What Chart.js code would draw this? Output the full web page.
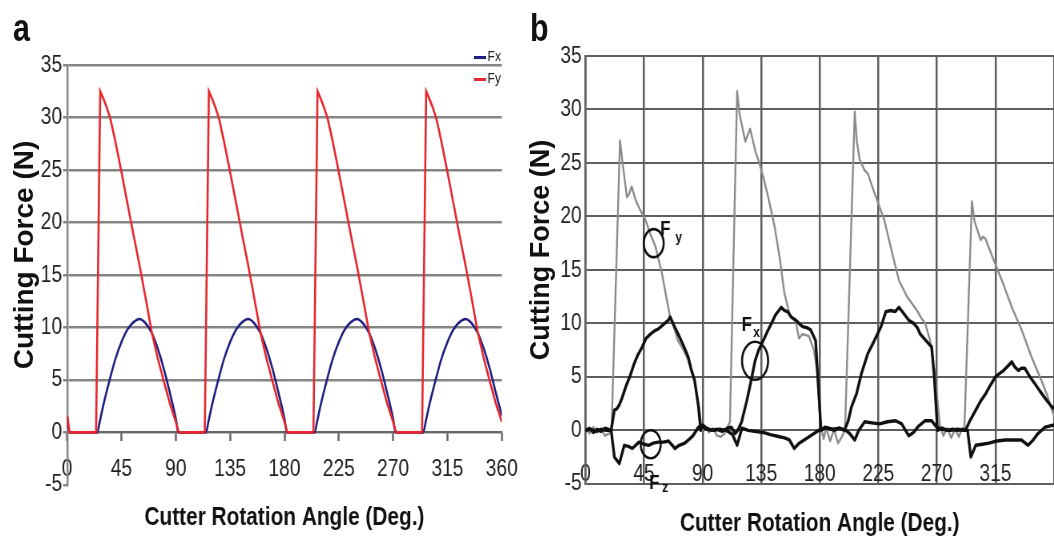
<!DOCTYPE html>
<html>
<head>
<meta charset="utf-8">
<title>Cutting force vs cutter rotation angle</title>
<script src="https://cdn.jsdelivr.net/npm/chart.js@4.4.1/dist/chart.umd.min.js"></script>
<style>
  html, body { margin: 0; padding: 0; background: #fff; }
  body { position: relative; width: 1054px; height: 542px; overflow: hidden;
         font-family: "Liberation Sans", Arial, sans-serif; color: #111; }
  /* the original figure is squeezed sideways, so the canvases are too */
  .box { position: absolute; top: 0; height: 542px; transform: scaleX(0.8); transform-origin: 0 0; }
  #boxA { left: 0; width: 662.5px; }
  #boxB { left: 518px; width: 700px; }
  .panel { position: absolute; font-weight: bold; font-size: 38px; line-height: 1; transform: scaleX(0.8); transform-origin: 0 0; }
  .ytitle { position: absolute; transform: translate(-50%, -50%) rotate(-90deg); white-space: nowrap; font-weight: bold; }
  #legendA { position: absolute; left: 474px; top: 45px; font-size: 15px; line-height: 22px; color: #222;
             transform: scaleX(0.8); transform-origin: 0 0; }
  #legendA .sw { display: inline-block; width: 15px; height: 3px; vertical-align: middle; margin-right: 2px; }
</style>
</head>
<body>
<div id="boxA" class="box"><canvas id="chartA"></canvas></div>
<div id="boxB" class="box"><canvas id="chartB"></canvas></div>
<div class="panel" style="left:13px; top:9px">a</div>
<div class="panel" style="left:530px; top:9px">b</div>
<div class="ytitle" style="left:24px; top:255px; font-size:28px">Cutting Force (N)</div>
<div class="ytitle" style="left:540px; top:250px; font-size:27px">Cutting Force (N)</div>
<div id="legendA"></div>

<script>
const FONT = '"Liberation Sans", Arial, sans-serif';

// axis ticks (both panels)
const angleTicks = [0, 45, 90, 135, 180, 225, 270, 315, 360];
const forceTicks = [-5, 0, 5, 10, 15, 20, 25, 30, 35];

// panel a - [angle (deg), force (N)]
const simFx = [
  [0, 1.5], [2, 0], [25, 0], [27, 1.0], [30, 2.6], [35, 4.9], [40, 7.0], [45, 8.6], [50, 9.8], [55, 10.5],
  [60, 10.8], [65, 10.4], [70, 9.5], [75, 8.0], [80, 6.1], [85, 3.8], [90, 1.3], [92, 0],
  [115, 0], [117, 1.0], [120, 2.6], [125, 4.9], [130, 7.0], [135, 8.6], [140, 9.8], [145, 10.5],
  [150, 10.8], [155, 10.4], [160, 9.5], [165, 8.0], [170, 6.1], [175, 3.8], [180, 1.3], [182, 0],
  [205, 0], [207, 1.0], [210, 2.6], [215, 4.9], [220, 7.0], [225, 8.6], [230, 9.8], [235, 10.5],
  [240, 10.8], [245, 10.4], [250, 9.5], [255, 8.0], [260, 6.1], [265, 3.8], [270, 1.3], [272, 0],
  [295, 0], [297, 1.0], [300, 2.6], [305, 4.9], [310, 7.0], [315, 8.6], [320, 9.8], [325, 10.5],
  [330, 10.8], [335, 10.4], [340, 9.5], [345, 8.0], [350, 6.1], [355, 3.8], [360, 1.6]
];
const simFy = [
  [0, 1.6], [2, 0], [24, 0], [27.4, 32.5], [30, 31.8], [33, 30.9], [36, 29.8], [40, 27.7], [45, 24.8],
  [50, 21.8], [55, 18.8], [60, 15.9], [65, 12.8], [70, 9.6], [75, 7.1], [80, 4.9], [85, 2.8], [90, 1.0], [92.5, 0],
  [114, 0], [117.4, 32.5], [120, 31.8], [123, 30.9], [126, 29.8], [130, 27.7], [135, 24.8],
  [140, 21.8], [145, 18.8], [150, 15.9], [155, 12.8], [160, 9.6], [165, 7.1], [170, 4.9], [175, 2.8], [180, 1.0], [182.5, 0],
  [204, 0], [207.4, 32.5], [210, 31.8], [213, 30.9], [216, 29.8], [220, 27.7], [225, 24.8],
  [230, 21.8], [235, 18.8], [240, 15.9], [245, 12.8], [250, 9.6], [255, 7.1], [260, 4.9], [265, 2.8], [270, 1.0], [272.5, 0],
  [294, 0], [297.4, 32.5], [300, 31.8], [303, 30.9], [306, 29.8], [310, 27.7], [315, 24.8],
  [320, 21.8], [325, 18.8], [330, 15.9], [335, 12.8], [340, 9.6], [345, 7.1], [350, 4.9], [355, 2.8], [360, 1.0]
];

// panel b - measured, [angle (deg), force (N)]
const expFy = [
  [0, 0.2], [3, -0.3], [6, 0.3], [9, -0.2], [12, 0.1], [15, -0.5], [18, -0.3], [20, 0],
  [26.5, 27.1], [28, 25.5], [31.8, 21.8], [33.5, 22.1], [35.5, 22.8], [38.6, 21.5], [42, 20.6], [46, 19.7],
  [50, 18.3], [53.7, 17.2], [58.7, 14.7], [62, 12.5], [65, 10.6], [68, 9.6], [71, 8.4], [75, 7.6],
  [78.8, 6.6], [82, 5.3], [84, 4.4], [87.6, 1.9], [89.3, 0],
  [92, 0.3], [95, -0.2], [98, 0.2], [101, -0.5], [104, -0.6], [107, -0.3], [109, 0.3], [111, 0.8],
  [116.5, 31.7], [118.5, 29.5], [122.8, 27.0], [126.5, 28.2], [130.3, 26.2], [133, 25.2], [136.6, 23.7],
  [140.4, 21.8], [145.4, 19.0], [149.1, 16.2], [152.9, 12.8], [156.7, 10.9], [161.7, 10.1], [164, 8.6],
  [166.8, 9.0], [171.7, 8.8], [175.5, 7.5], [178, 5.5], [180.5, 0.6],
  [183, -0.8], [185, 0.2], [188, -1.0], [191, 0.1], [194, -1.2], [197, -0.6], [199.4, 0],
  [206.9, 29.8], [208.5, 27.0], [210.7, 25.3], [214.5, 24.3], [217, 24.0], [220, 22.9], [223.3, 21.8],
  [229.5, 19.7], [235.8, 16.5], [240.9, 14.0], [247.1, 12.5], [254.7, 11.2], [258, 10.5], [261, 10.0],
  [264.8, 8.4], [268.5, 5.3], [272.3, 0.5],
  [275, -0.5], [278, 0.2], [281, -0.7], [284, 0.1], [287, -0.6], [289, 0.1], [291.1, 0],
  [296.9, 21.4], [299, 19.5], [303.7, 17.8], [305.5, 18.1], [307.4, 17.9], [313.7, 15.9], [320, 14.0],
  [327.6, 11.5], [335.1, 9.4], [342.6, 6.9], [350.2, 4.7], [355, 3.2], [358, 2.0], [360, 1.4]
];
const expFx = [
  [0, 0], [3, 0.2], [6, -0.2], [9, 0.1], [12, -0.1], [15, 0.2], [19.7, 0],
  [22.2, 1.9], [24, 2.0], [26, 2.4], [28, 3.0], [31, 4.1], [34, 5.0], [37.3, 6.2], [40, 7.0], [43.6, 7.8],
  [46.5, 8.6], [49.9, 9.0], [53, 9.3], [56.2, 9.5], [60, 9.9], [63.7, 10.3], [65, 10.6], [68, 9.8],
  [71.2, 9.0], [75, 8.0], [78.8, 6.9], [81, 5.8], [83.8, 4.7], [86.8, 2.2], [88.5, 0], [90, 0.5], [93, 0.2],
  [97, 0], [101, 0.1], [105, -0.1], [109, 0.2], [112, 0.3], [115, -0.3], [117, 0],
  [120, 0.8], [124, 2.8], [127, 4.5], [130.3, 6.5], [133, 7.5], [136.6, 8.4], [140, 9.3], [142.9, 10.0],
  [146, 10.8], [150.4, 11.5], [153, 11.2], [155.4, 11.1], [158, 10.6], [161.7, 10.3], [164, 10.0],
  [166.8, 9.7], [170, 9.6], [173, 9.4], [176.8, 8.4], [179.3, 3.4], [181, 0],
  [184, 0.3], [187, 0.2], [191, 0], [195, 0.2], [199, 0],
  [201.9, 0.9], [204.4, 2.2], [208.2, 3.4], [212, 5.3], [217, 7.2], [222, 8.4], [227.1, 9.7], [230.8, 11.1],
  [234.6, 11.2], [238, 11.1], [240.9, 11.5], [244, 11.0], [248.4, 10.3], [252.2, 10.0], [255, 9.6],
  [257.2, 9.0], [262.2, 8.3], [266, 7.8], [268, 5.0], [270.5, 0],
  [274, 0.2], [278, 0], [282, 0.1], [286, 0], [290, 0.1], [292, 0],
  [295, 0.8], [299.9, 1.9], [303.5, 2.7], [307.4, 3.4], [311, 4.2], [315, 5.0], [318, 5.3], [321.3, 5.6],
  [324.5, 6.0], [327.6, 6.4], [330, 5.9], [332.6, 5.6], [335, 5.8], [337.6, 5.8], [341, 5.1], [345.1, 4.4],
  [349, 3.7], [353.2, 3.0], [357, 2.4], [360, 2.0]
];
const expFz = [
  [0, 0], [4, 0.1], [8, -0.1], [12, 0.1], [16, 0], [19.7, 0],
  [22.2, -2.5], [26, -3.1], [29.8, -1.4], [33, -1.5], [36, -1.7], [41, -1.1], [45, -1.3], [48.6, -1.4],
  [52, -1.2], [56.2, -1.1], [60, -1.1], [63.7, -1.0], [66, -1.3], [68.7, -1.7], [72, -1.4], [76.3, -1.2],
  [80, -0.8], [82.6, -0.5], [86.8, 0.3], [89.3, 0.4], [93, 0.1],
  [98, 0], [103, 0.1], [108, 0], [113, -0.4], [116.5, -1.4], [120.2, 0.2], [125, 0], [130, -0.1],
  [136.6, -0.2], [142, -0.4], [149.1, -0.6], [153, -0.7], [156.7, -0.9], [160.4, -1.7], [164.2, -1.2],
  [169.2, -0.8], [173, -0.5], [176.8, -0.2], [180.5, 0.1], [185, 0.2], [190, 0.1], [195, 0.2], [200, 0],
  [203, -0.3], [206.9, -0.9], [210, 0], [214.5, 0.8], [220, 0.7], [226, 0.6], [232, 0.8], [238.3, 0.9],
  [243, 0.6], [248.4, -0.5], [252, -0.2], [256, 0.4], [261, 0.9], [266, 0.9], [269.8, 0.3],
  [274, 0.1], [280, 0], [286, 0.1], [290, 0], [293.6, 0],
  [296.1, -2.5], [299.9, -1.4], [305, -1.3], [310, -1.2], [316, -1.0], [322.5, -0.9], [329, -0.9],
  [335, -0.9], [340.1, -1.4], [344, -0.9], [347.7, -0.3], [353.2, 0.3], [360, 0.5]
];

// circled curve labels in panel b
const circleNotes = [
  { main: 'F', sub: 'y', angle: 52.4, force: 17.5 },
  { main: 'F', sub: 'x', angle: 130.3, force: 6.5 },
  { main: 'F', sub: 'z', angle: 50.1, force: -1.3 }
];

const pts = arr => arr.map(([x, y]) => ({ x, y }));
const tickFont = { family: FONT, size: 24 };
const titleFont = { family: FONT, size: 26, weight: 'bold', lineHeight: 1.2 };

// ---- panel a ----
const greyA = '#858585';
const chartA = new Chart(document.getElementById('chartA'), {
  type: 'line',
  data: {
    datasets: [
      { label: 'Fx', data: pts(simFx), borderColor: '#1f2080', borderWidth: 2.6, cubicInterpolationMode: 'monotone', order: 2 },
      { label: 'Fy', data: pts(simFy), borderColor: '#e8262d', borderWidth: 2.6, tension: 0, order: 1 }
    ]
  },
  options: {
    responsive: true,
    maintainAspectRatio: false,
    animation: false,
    devicePixelRatio: 1,
    elements: { point: { radius: 0 } },
    layout: { padding: { left: 0, top: 65, right: 36.25, bottom: 0 } },
    plugins: {
      legend: { display: false },
      tooltip: { enabled: false },
      title: {
        display: true, text: 'Cutter Rotation Angle (Deg.)', position: 'bottom', fullSize: false,
        color: '#111', font: titleFont, padding: { top: 17, bottom: 9 }
      }
    },
    scales: {
      x: {
        type: 'linear', position: { y: 0 }, min: 0, max: 360,
        afterBuildTicks: s => { s.ticks = angleTicks.map(v => ({ value: v })); },
        grid: { drawOnChartArea: false, drawTicks: true, tickLength: 8, tickColor: '#666', tickWidth: 2.5 },
        border: { display: true, color: '#666', width: 2 },
        ticks: { padding: 15, color: '#222', font: tickFont, maxRotation: 0, autoSkip: false }
      },
      y: {
        type: 'linear', min: -5, max: 35,
        afterBuildTicks: s => { s.ticks = forceTicks.map(v => ({ value: v })); },
        afterFit: s => { s.width = 83.75; },
        grid: {
          color: c => (c.tick && c.tick.value === -5 ? 'rgba(0,0,0,0)' : greyA),
          lineWidth: 2.5, tickLength: 5, tickColor: greyA
        },
        border: { color: greyA, width: 2.5 },
        ticks: { padding: 1.25, color: '#222', font: tickFont }
      }
    }
  }
});

document.getElementById('legendA').innerHTML = chartA.data.datasets
  .map(d => `<div><span class="sw" style="background:${d.borderColor}"></span>${d.label}</div>`)
  .join('');

// ---- panel b ----
const noteLayout = {
  y: { rx: 12.5, ry: 14, fx: 14.6, fy: -13.5, sx: 31.3, sy: -5.5 },
  x: { rx: 16.3, ry: 19, fx: -10.4, fy: -35.8, sx: 1.8, sy: -28.3 },
  z: { rx: 12.5, ry: 14, fx: 4.5, fy: 38.7, sx: 18.1, sy: 44 }
};

const circleNotesPlugin = {
  id: 'circleNotes',
  afterDatasetsDraw(chart) {
    const { ctx, scales } = chart;
    ctx.save();
    ctx.strokeStyle = '#111';
    ctx.fillStyle = '#111';
    ctx.lineWidth = 2.6;
    ctx.textAlign = 'center';
    ctx.textBaseline = 'middle';
    circleNotes.forEach(n => {
      const cx = scales.x.getPixelForValue(n.angle);
      const cy = scales.y.getPixelForValue(n.force);
      const L = noteLayout[n.sub];
      ctx.beginPath();
      ctx.ellipse(cx, cy, L.rx, L.ry, 0, 0, Math.PI * 2);
      ctx.stroke();
      ctx.font = 'bold 21px ' + FONT;
      ctx.fillText(n.main, cx + L.fx, cy + L.fy);
      ctx.font = 'bold 15px ' + FONT;
      ctx.fillText(n.sub, cx + L.sx, cy + L.sy);
    });
    ctx.restore();
  }
};

const gridB = '#5e5e5e';
new Chart(document.getElementById('chartB'), {
  type: 'line',
  data: {
    datasets: [
      { label: 'Fx', data: pts(expFx), borderColor: '#111', borderWidth: 3.4, order: 1 },
      { label: 'Fy', data: pts(expFy), borderColor: '#8c8c8c', borderWidth: 2.4, order: 3 },
      { label: 'Fz', data: pts(expFz), borderColor: '#111', borderWidth: 3.4, order: 2 }
    ]
  },
  options: {
    responsive: true,
    maintainAspectRatio: false,
    animation: false,
    devicePixelRatio: 1,
    elements: { point: { radius: 0 }, line: { tension: 0, borderJoinStyle: 'round' } },
    layout: { padding: { left: 0, top: 56, right: 18.75, bottom: 0 } },
    plugins: {
      legend: { display: false },
      tooltip: { enabled: false },
      title: {
        display: true, text: 'Cutter Rotation Angle (Deg.)', position: 'bottom', fullSize: false,
        color: '#111', font: titleFont, padding: { top: 24, bottom: 3 }
      }
    },
    scales: {
      x: {
        type: 'linear', position: { y: 0 }, min: 0, max: 360,
        afterBuildTicks: s => { s.ticks = angleTicks.map(v => ({ value: v })); },
        grid: { drawOnChartArea: true, drawTicks: false, color: gridB, lineWidth: 2.5 },
        border: { display: true, color: gridB, width: 2 },
        ticks: { padding: 30, color: '#222', font: tickFont, maxRotation: 0, autoSkip: false,
                 callback: v => (v === 360 ? '' : v) }
      },
      y: {
        type: 'linear', min: -5, max: 35,
        afterBuildTicks: s => { s.ticks = forceTicks.map(v => ({ value: v })); },
        afterFit: s => { s.width = 84.4; },
        grid: { color: gridB, lineWidth: 2, drawTicks: false },
        border: { color: gridB, width: 2.5 },
        ticks: { padding: 4.75, color: '#222', font: tickFont }
      }
    }
  },
  plugins: [circleNotesPlugin]
});
</script>
</body>
</html>
